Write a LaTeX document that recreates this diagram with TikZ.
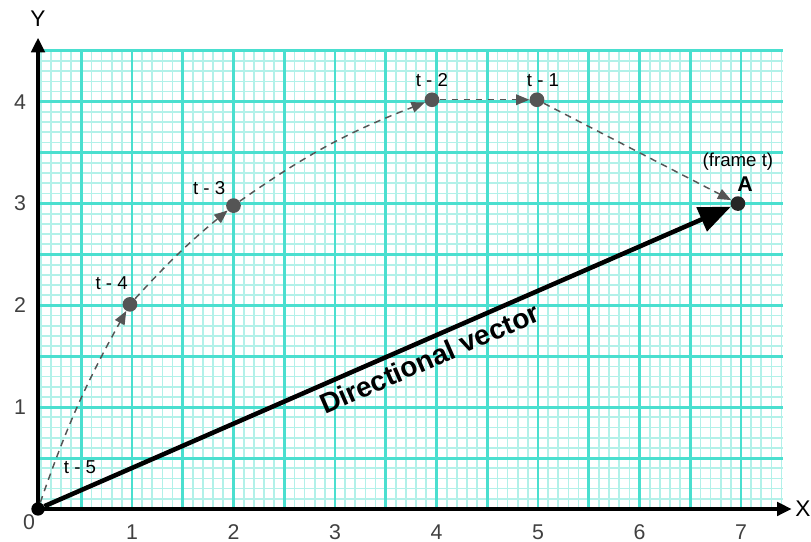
\documentclass[tikz,border=0pt]{standalone}
\usepackage{fontspec}
\setmainfont{Liberation Sans}
\usetikzlibrary{arrows.meta}
\definecolor{minorg}{HTML}{B2F1E9}
\definecolor{majorg}{HTML}{4ADFCF}
\definecolor{ptgray}{HTML}{555555}
\definecolor{numgray}{HTML}{404040}
\begin{document}
\begin{tikzpicture}[x=76.125pt,y=76.35pt,
  ptdot/.style={circle,fill=ptgray,inner sep=0pt,minimum size=11pt},
  tlab/.style={font=\fontsize{14}{16}\selectfont,text=black},
  num/.style={font=\fontsize{16}{18}\selectfont,text=numgray},
  axlab/.style={font=\fontsize{17}{19}\selectfont,text=black},
  traj/.style={draw=ptgray,line width=1.1pt,dash pattern=on 5pt off 4pt,
    -{Triangle[length=10pt,width=8pt,fill=ptgray]}},
  axis/.style={line width=3pt,-{Triangle[length=11pt,width=10pt]}},
  vec/.style={line width=3.4pt,-{Triangle[length=24pt,width=19pt]}},
  vlab/.style={font=\bfseries\fontsize{21}{23}\selectfont,rotate=23.6}
]
\useasboundingbox (-0.3005,-0.3242) rectangle (7.690,5.0);
% grid
\begin{scope}
\clip (0.074,0) rectangle (7.5,4.6);
\draw[minorg,line width=1.3pt,step=0.1] (0,0) grid (7.41,4.5);
\draw[majorg,line width=2.2pt,step=0.5] (0,0) grid (7.41,4.5);
\end{scope}
% axes
\coordinate (O) at (0.074,0);
\coordinate (Xend) at (7.5,0);
\coordinate (Yend) at (0.074,4.63);
\draw[axis] (O) -- (Xend);
\draw[axis] (O) -- (Yend);
\node[axlab] (xl) at (7.61,0) {X};
\node[axlab] (yl) at (0.074,4.82) {Y};
% tick labels
\node[num] (n0) at (-0.015,-0.128) {0};
\foreach \i in {1,...,7} {\node[num] (nx\i) at (\i,-0.226) {\i};}
\foreach \j in {1,...,4} {\node[num] (ny\j) at (-0.103,\j) {\j};}
% points
\node[circle,fill=black,inner sep=0pt,minimum size=10pt] (p0) at (0.074,0) {};
\node[ptdot] (p1) at (0.98,2.01) {};
\node[ptdot] (p2) at (2.0,2.98) {};
\node[ptdot] (p3) at (3.955,4.02) {};
\node[ptdot] (p4) at (4.99,4.02) {};
\node[circle,fill=black!85,inner sep=0pt,minimum size=11pt] (pA) at (6.97,3.0) {};
% trajectory
\draw[traj] (p0) to[bend left=5] (p1);
\draw[traj] (p1) to[bend left=4] (p2);
\draw[traj] (p2) to[bend left=7] (p3);
\draw[traj] (p3) -- (p4);
\draw[traj] (p4) -- (pA);
% directional vector
\draw[vec] (p0) -- (pA);
\node[vlab] (vl) at (3.93,1.48) {Directional vector};
% labels
\node[tlab] (l5) at (0.488,0.41) {t - 5};
\node[tlab] (l4) at (0.80,2.22) {t - 4};
\node[tlab] (l3) at (1.76,3.15) {t - 3};
\node[tlab] (l2) at (3.955,4.21) {t - 2};
\node[tlab] (l1) at (5.05,4.21) {t - 1};
\node[tlab] (lf) at (6.97,3.41) {(frame t)};
\node[font=\bfseries\fontsize{16}{18}\selectfont] (lA) at (7.04,3.19) {A};
\end{tikzpicture}
\end{document}
